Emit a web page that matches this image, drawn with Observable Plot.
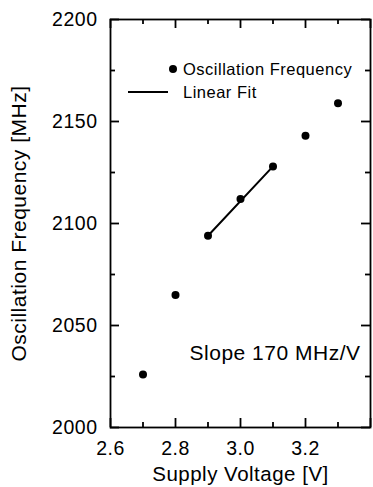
<!DOCTYPE html>
<html>
<head>
<meta charset="utf-8">
<script src="https://cdn.jsdelivr.net/npm/d3@7"></script>
<script src="https://cdn.jsdelivr.net/npm/@observablehq/plot@0.6"></script>
<style>
  html, body { margin: 0; padding: 0; background: #fff; }
  svg { font-family: "Liberation Sans", Arial, Helvetica, sans-serif; }
  svg text { letter-spacing: 0.5px; }
</style>
</head>
<body>
<div id="chart"></div>
<script>
const voltage = [2.7, 2.8, 2.9, 3.0, 3.1, 3.2, 3.3];
const frequency = [2026, 2065, 2094, 2112, 2128, 2143, 2159];
const fitVoltage = [2.9, 3.1];
const fitFrequency = [2094, 2128];
const xMajor = [2.6, 2.8, 3.0, 3.2, 3.4];
const xMinor = [2.7, 2.9, 3.1, 3.3];
const xLabels = [2.6, 2.8, 3.0, 3.2];
const yMajor = [2000, 2050, 2100, 2150, 2200];
const yMinor = [2025, 2075, 2125, 2175];
const seriesNames = ["Oscillation Frequency", "Linear Fit"];
const slopeLabel = "Slope 170 MHz/V";
const xTitle = "Supply Voltage [V]";
const yTitle = "Oscillation Frequency [MHz]";

const points = voltage.map((v, i) => ({v, f: frequency[i]}));
const fit = fitVoltage.map((v, i) => ({v, f: fitFrequency[i]}));

const ML = 110, MR = 3, MT = 19, MB = 60, W = 373, H = 487;
const xDomain = [2.6, 3.4], yDomain = [2000, 2200];
const sw = 1.8;
const majorLen = 9, minorLen = 5;

// the same scales the plot uses, so tick lengths (pixels) can be turned into data ends
const xs = Plot.scale({x: {domain: xDomain, range: [ML, W - MR]}});
const ys = Plot.scale({y: {domain: yDomain, range: [H - MB, MT]}});

const xTicks = (vals, len) => [
  Plot.ruleX(vals, {x: d => d, y1: yDomain[0], y2: ys.invert(H - MB - len), stroke: "#000", strokeWidth: sw}),
  Plot.ruleX(vals, {x: d => d, y1: yDomain[1], y2: ys.invert(MT + len), stroke: "#000", strokeWidth: sw})
];
const yTicks = (vals, len) => [
  Plot.ruleY(vals, {y: d => d, x1: xDomain[0], x2: xs.invert(ML + len), stroke: "#000", strokeWidth: sw}),
  Plot.ruleY(vals, {y: d => d, x1: xDomain[1], x2: xs.invert(W - MR - len), stroke: "#000", strokeWidth: sw})
];

const chart = Plot.plot({
  width: W,
  height: H,
  marginLeft: ML,
  marginRight: MR,
  marginTop: MT,
  marginBottom: MB,
  style: {fontFamily: '"Liberation Sans", Arial, sans-serif', background: "#fff"},
  x: {domain: xDomain, axis: null},
  y: {domain: yDomain, axis: null},
  marks: [
    Plot.frame({stroke: "#000", strokeWidth: sw}),
    ...xTicks(xMajor, majorLen),
    ...xTicks(xMinor, minorLen),
    ...yTicks(yMajor, majorLen),
    ...yTicks(yMinor, minorLen),
    Plot.text(xLabels, {x: d => d, frameAnchor: "bottom", dy: 21, text: d => d.toFixed(1), fontSize: 19.5, fill: "#000", textAnchor: "middle", lineAnchor: "middle"}),
    Plot.text(yMajor, {y: d => d, frameAnchor: "left", dx: -13, text: d => String(d), fontSize: 19.5, fill: "#000", textAnchor: "end", lineAnchor: "middle"}),
    Plot.text([xTitle], {frameAnchor: "bottom", dy: 47, text: d => d, fontSize: 20.5, fill: "#000", textAnchor: "middle", lineAnchor: "middle"}),
    Plot.text([yTitle], {frameAnchor: "left", dx: -91, text: d => d, fontSize: 21, fill: "#000", rotate: -90, textAnchor: "middle", lineAnchor: "middle"}),
    Plot.line(fit, {x: "v", y: "f", stroke: "#000", strokeWidth: 2}),
    Plot.dot(points, {x: "v", y: "f", r: 4, fill: "#000"}),
    Plot.text([slopeLabel], {frameAnchor: "bottom-right", dx: -10, dy: -74, text: d => d, fontSize: 21, fill: "#000", textAnchor: "end", lineAnchor: "middle"})
  ]
});

const svg = d3.select(chart);
const lg = svg.append("g").attr("font-size", 16.5).attr("fill", "#000").attr("text-anchor", "start");
lg.append("circle").attr("cx", ML + 63).attr("cy", MT + 50).attr("r", 4).attr("fill", "#000");
lg.append("text").attr("x", ML + 73).attr("y", MT + 50).attr("dy", "0.35em").text(seriesNames[0]);
lg.append("line").attr("x1", ML + 18).attr("x2", ML + 58).attr("y1", MT + 73).attr("y2", MT + 73).attr("stroke", "#000").attr("stroke-width", 1.8);
lg.append("text").attr("x", ML + 73).attr("y", MT + 73).attr("dy", "0.35em").text(seriesNames[1]);

document.getElementById("chart").appendChild(chart);
</script>
</body>
</html>
